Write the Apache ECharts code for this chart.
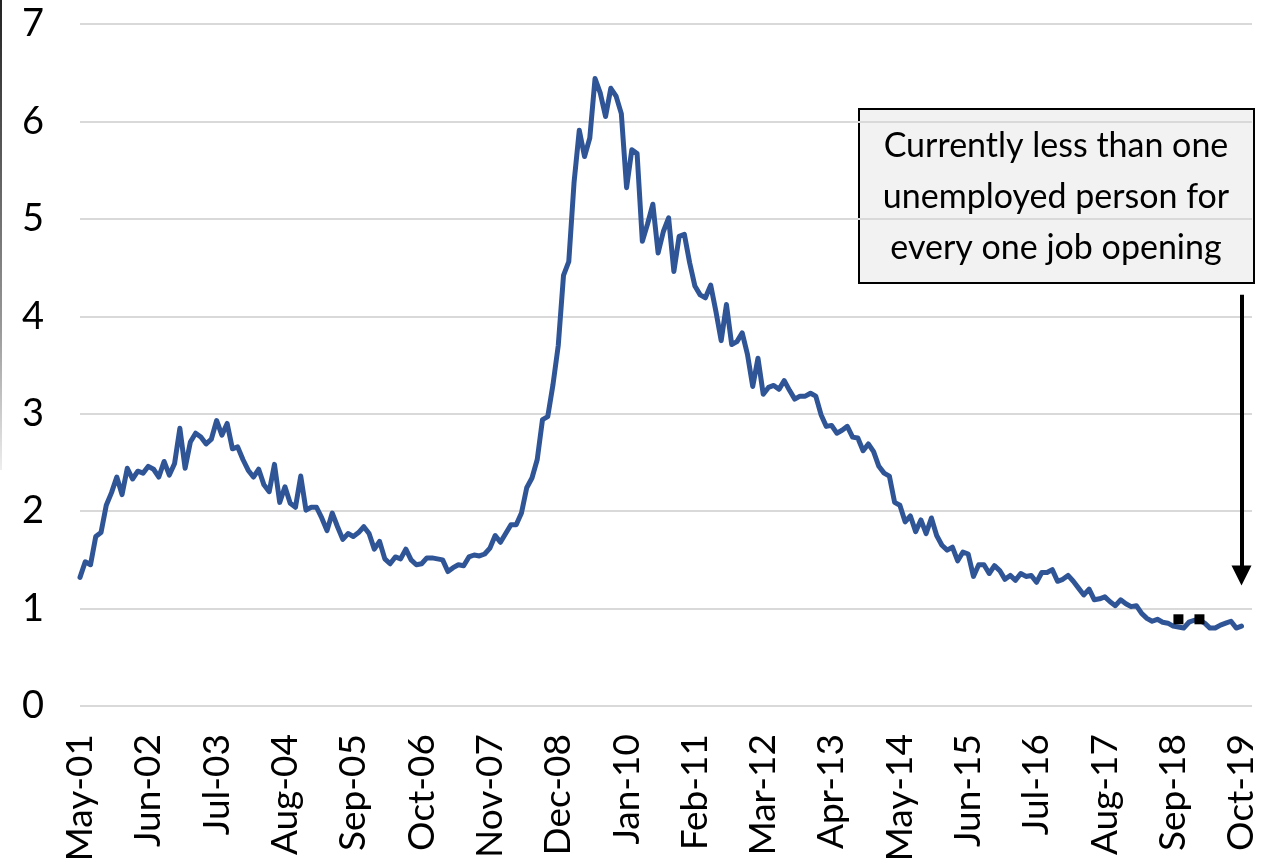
<!DOCTYPE html>
<html>
<head>
<meta charset="utf-8">
<script src="https://cdn.jsdelivr.net/npm/echarts@6/dist/echarts.min.js"></script>
<style>
  html, body { margin: 0; padding: 0; background: #fff; }
  #chart { width: 1262px; height: 865px; }
</style>
</head>
<body>
<div id="chart"></div>
<script>
// ---- Data ----
const monthNames = ['Jan','Feb','Mar','Apr','May','Jun','Jul','Aug','Sep','Oct','Nov','Dec'];
const startYear = 2001, startMonthIdx = 4;   // May-01
const monthsCount = 222;                     // through Oct-19
const padMonths = 2;                         // empty room after last point

// Unemployed persons per job opening, May-01 .. Sep-06
const ratioA = [
  1.32,1.48,1.45,1.74,1.78,2.06,2.19,2.35,2.17,2.44,
  2.33,2.41,2.39,2.46,2.43,2.35,2.51,2.37,2.49,2.85,
  2.44,2.71,2.80,2.76,2.69,2.74,2.93,2.78,2.90,2.64,
  2.66,2.53,2.42,2.35,2.43,2.27,2.20,2.48,2.09,2.25,
  2.08,2.04,2.36,2.01,2.04,2.04,1.93,1.80,1.98,1.84,
  1.71,1.77,1.74,1.78,1.84,1.77,1.61,1.69,1.51,1.46,
  1.53,1.51,1.61,1.50,1.45
];
// Oct-06 .. Jun-12
const ratioB = [
  1.46,1.52,1.52,1.51,1.50,1.38,1.42,1.45,1.44,1.53,
  1.55,1.54,1.56,1.62,1.75,1.68,1.77,1.86,1.86,1.98,
  2.24,2.34,2.53,2.94,2.97,3.30,3.70,4.42,4.56,5.37,
  5.91,5.64,5.83,6.44,6.29,6.05,6.34,6.26,6.08,5.32,
  5.71,5.67,4.77,4.95,5.15,4.65,4.87,5.01,4.46,4.82,
  4.84,4.55,4.31,4.22,4.19,4.32,4.05,3.75,4.12,3.71,
  3.74,3.83,3.61,3.28,3.57,3.20,3.27,3.29,3.25
];
// Jul-12 .. Oct-19
const ratioC = [
  3.34,3.24,3.15,3.18,3.18,3.21,3.18,2.99,2.87,2.88,
  2.80,2.83,2.87,2.76,2.75,2.62,2.69,2.61,2.46,2.39,
  2.36,2.09,2.06,1.89,1.95,1.79,1.91,1.77,1.93,1.75,
  1.65,1.60,1.63,1.49,1.58,1.56,1.33,1.45,1.45,1.36,
  1.44,1.39,1.30,1.34,1.29,1.36,1.33,1.34,1.27,1.37,
  1.37,1.40,1.28,1.30,1.34,1.28,1.21,1.14,1.20,1.09,
  1.10,1.12,1.07,1.03,1.09,1.05,1.02,1.03,0.95,0.90,
  0.87,0.89,0.86,0.85,0.82,0.81,0.80,0.86,0.88,0.88,
  0.85,0.80,0.80,0.83,0.85,0.87,0.80,0.82
];
const yTicks = [0, 1, 2, 3, 4, 5, 6, 7];
const titleText = 'Unemployed persons per job opening';
const noteText = 'Currently less than one\nunemployed person for\nevery one job opening';
const arrowFrom = 4.22, arrowTo = 1.34;     // annotation arrow (value units)
const squareMarks = [[209, 0.89], [213, 0.89]];

// ---- Build ----
const categories = [];
for (let i = 0; i < monthsCount + padMonths; i++) {
  const t = startMonthIdx + i;
  const y = startYear + Math.floor(t / 12);
  const m = t % 12;
  categories.push(monthNames[m] + '-' + String(y % 100).padStart(2, '0'));
}
const ratio = ratioA.concat(ratioB, ratioC);
const lastIdx = ratio.length - 1;

const chart = echarts.init(document.getElementById('chart'), null, { renderer: 'canvas' });
const FONT = 'Lato, "Open Sans", sans-serif';

chart.setOption({
  animation: false,
  backgroundColor: '#fff',
  grid: { left: 80, right: 10, top: 24, bottom: 159 },
  xAxis: {
    type: 'category',
    data: categories,
    boundaryGap: false,
    axisLine: { show: false },
    axisTick: { show: false },
    axisLabel: {
      interval: 12,
      rotate: 90,
      margin: 28,
      fontSize: 37,
      fontFamily: FONT,
      color: '#000'
    },
    splitLine: { show: false }
  },
  yAxis: {
    type: 'value',
    min: yTicks[0],
    max: yTicks[yTicks.length - 1],
    interval: 1,
    axisLine: { show: false },
    axisTick: { show: false },
    axisLabel: { margin: 36, fontSize: 38, fontFamily: FONT, color: '#000' },
    splitLine: { lineStyle: { color: '#d9d9d9', width: 2 } }
  },
  series: [{
    type: 'line',
    data: ratio,
    showSymbol: false,
    symbol: 'none',
    lineStyle: { color: '#2F5597', width: 5, join: 'round', cap: 'round' },
    markLine: {
      silent: true,
      symbol: ['none', 'triangle'],
      symbolSize: [20, 20],
      label: { show: false },
      lineStyle: { color: '#000', width: 4, type: 'solid' },
      data: [[ { coord: [lastIdx, arrowFrom] }, { coord: [lastIdx, arrowTo] } ]]
    },
    markPoint: {
      silent: true,
      symbol: 'rect',
      symbolSize: [10, 10],
      itemStyle: { color: '#000' },
      label: { show: false },
      data: squareMarks.map(c => ({ coord: c }))
    }
  }],
  graphic: [
    {
      type: 'rect',
      left: 0, top: 0,
      shape: { width: 2, height: 470 },
      style: {
        fill: new echarts.graphic.LinearGradient(0, 0, 0, 1, [
          { offset: 0, color: '#222' }, { offset: 0.7, color: '#999' }, { offset: 1, color: '#eee' }
        ])
      }
    },
    {
      type: 'text',
      x: 720, y: -40,
      style: { text: titleText, font: '40px ' + FONT, textAlign: 'center', textVerticalAlign: 'top', fill: '#000' }
    },
    {
      type: 'rect',
      shape: { x: 859, y: 109, width: 395, height: 174 },
      style: { fill: '#f2f2f2', stroke: '#000', lineWidth: 2 }
    },
    {
      type: 'text',
      x: 1056, y: 197,
      style: {
        text: noteText, font: '34px ' + FONT, lineHeight: 51,
        textAlign: 'center', textVerticalAlign: 'middle', fill: '#000'
      }
    }
  ]
});
</script>
</body>
</html>
